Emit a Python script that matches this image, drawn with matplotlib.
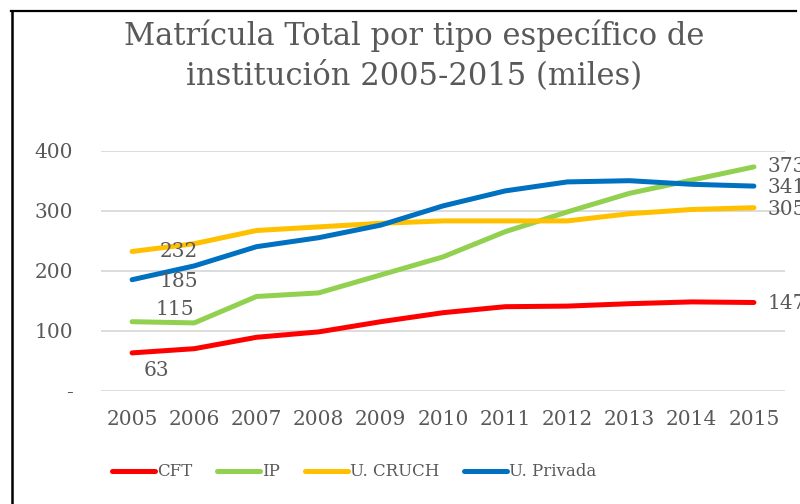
import numpy as np
import matplotlib
matplotlib.use('Agg')
import matplotlib.pyplot as plt
from matplotlib.lines import Line2D

years = [2005, 2006, 2007, 2008, 2009, 2010, 2011, 2012, 2013, 2014, 2015]
cft = [63, 70, 89, 98, 115, 130, 140, 141, 145, 148, 147]
ip = [115, 113, 157, 163, 193, 223, 265, 298, 329, 351, 373]
cruch = [232, 245, 267, 273, 279, 283, 283, 283, 295, 302, 305]
privada = [185, 208, 240, 255, 276, 308, 333, 348, 350, 344, 341]
names = ['CFT', 'IP', 'U. CRUCH', 'U. Privada']
colors = ['#FF0000', '#92D050', '#FFC000', '#0070C0']
yticks = [0, 100, 200, 300, 400]
ylabels = ['-', '100', '200', '300', '400']

gray = '#595959'
plt.rcParams['font.family'] = ['DejaVu Serif']

fig = plt.figure(figsize=(8, 5.04), dpi=100)
ax = fig.add_axes([101/800, 1 - 390.7/504, 684/800, 240/504])

series = [cft, ip, cruch, privada]
for vals, name, c in zip(series, names, colors):
    ax.plot(years, vals, color=c, lw=3.6, label=name, solid_capstyle='round',
            solid_joinstyle='round')

ax.set_xlim(2004.5, 2015.5)
ax.set_ylim(0, 400)
ax.set_xticks(years)
ax.set_xticklabels([str(y) for y in years])
ax.set_yticks(yticks)
ax.set_yticklabels(ylabels)
ax.tick_params(length=0, labelsize=14.5, labelcolor=gray)
ax.tick_params(axis='y', pad=20)
ax.tick_params(axis='x', pad=14)
ax.grid(axis='y', color='#D9D9D9', lw=1.3)
ax.set_axisbelow(True)
for s in ax.spines.values():
    s.set_visible(False)

# data labels: first point of each series (offsets in pixels)
first_off = {'CFT': (24, -18), 'IP': (43, 12), 'U. CRUCH': (47, 0), 'U. Privada': (47, -2)}
for vals, name in zip(series, names):
    dx, dy = first_off[name]
    ax.annotate(str(vals[0]), (years[0], vals[0]), xytext=(dx, dy),
                textcoords='offset pixels', ha='center', va='center',
                fontsize=14.5, color=gray, annotation_clip=False)
last_dy = {'CFT': -1, 'IP': 0, 'U. CRUCH': -2, 'U. Privada': -1}
for vals, name in zip(series, names):
    ax.annotate(str(vals[-1]), (years[-1], vals[-1]), xytext=(14, last_dy[name]),
                textcoords='offset pixels', ha='left', va='center',
                fontsize=14.5, color=gray, annotation_clip=False)

fig.text(414/800, 1 - 19/504, 'Matrícula Total por tipo específico de\ninstitución 2005-2015 (miles)',
         ha='center', va='top', fontsize=22, color=gray, linespacing=1.35)

leg = ax.legend(loc='center', bbox_to_anchor=(354/800, 1 - 472/504),
                bbox_transform=fig.transFigure, ncol=4, frameon=False,
                fontsize=12, handlelength=2.6, handletextpad=0.1,
                columnspacing=1.5)
for t in leg.get_texts():
    t.set_color(gray)
for h in leg.get_lines():
    h.set_linewidth(3.6)

# chart border (top and left edges visible)
fig.add_artist(Line2D([11/800, 796/800], [1 - 11/504, 1 - 11/504], color='black', lw=1.6,
                      transform=fig.transFigure))
fig.add_artist(Line2D([11.5/800, 11.5/800], [1 - 11/504, 0], color='black', lw=1.8,
                      transform=fig.transFigure))

fig.savefig('out.png', dpi=100)
